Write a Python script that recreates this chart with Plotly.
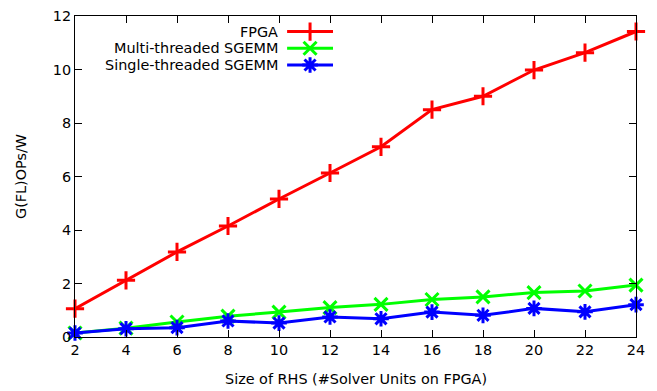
import plotly.graph_objects as go

rhs_sizes = [2, 4, 6, 8, 10, 12, 14, 16, 18, 20, 22, 24]
fpga = [1.06, 2.12, 3.18, 4.15, 5.16, 6.13, 7.11, 8.50, 9.00, 9.98, 10.63, 11.42]
multi_sgemm = [0.15, 0.33, 0.56, 0.78, 0.93, 1.10, 1.22, 1.40, 1.50, 1.66, 1.72, 1.94]
single_sgemm = [0.15, 0.31, 0.35, 0.60, 0.52, 0.75, 0.68, 0.93, 0.81, 1.07, 0.94, 1.21]

series_names = ["FPGA", "Multi-threaded SGEMM", "Single-threaded SGEMM"]
series_colors = ["#FF0000", "#00FF00", "#0000FF"]
series_symbols = ["cross-thin", "x-thin", "asterisk"]
series_values = [fpga, multi_sgemm, single_sgemm]

FONT = "DejaVu Sans, Verdana, sans-serif"
FS = 14.4

fig = go.Figure()
for name, vals, col, sym in zip(series_names, series_values, series_colors, series_symbols):
    fig.add_trace(go.Scatter(
        x=rhs_sizes, y=vals, mode="lines+markers", name=name,
        line=dict(color=col, width=3),
        marker=dict(symbol=sym, size=13, color=col, line=dict(color=col, width=3)),
        showlegend=False, cliponaxis=False,
    ))

# manual legend (text right-aligned, sample on the right, like gnuplot)
legend_rows = [0.0, 1.0, 2.0]
for i, (name, col, sym) in enumerate(zip(series_names, series_colors, series_symbols)):
    fig.add_trace(go.Scatter(
        x=[0, 1], y=[legend_rows[i]] * 2, mode="lines", xaxis="x2", yaxis="y2",
        line=dict(color=col, width=3), showlegend=False, hoverinfo="skip",
    ))
    fig.add_trace(go.Scatter(
        x=[0.5], y=[legend_rows[i]], mode="markers", xaxis="x2", yaxis="y2",
        marker=dict(symbol=sym, size=13, color=col, line=dict(color=col, width=3)),
        showlegend=False, hoverinfo="skip", cliponaxis=False,
    ))
    fig.add_annotation(
        x=0, y=legend_rows[i], xref="x2", yref="y2", text=name, showarrow=False,
        xanchor="right", xshift=-7, font=dict(family=FONT, size=FS, color="#000"),
    )

# axis titles as annotations (fixed positions, gnuplot-like)
fig.add_annotation(
    x=0.5, y=0, xref="paper", yref="paper", text="Size of RHS (#Solver Units on FPGA)",
    showarrow=False, xanchor="center", yanchor="middle", yshift=-42,
    font=dict(family=FONT, size=FS, color="#000"),
)
fig.add_annotation(
    x=0, y=0.5, xref="paper", yref="paper", text="G(FL)OPs/W", textangle=-90,
    showarrow=False, xanchor="center", yanchor="middle", xshift=-54.5,
    font=dict(family=FONT, size=FS, color="#000"),
)

axis_common = dict(
    showgrid=False, zeroline=False, showline=True, linecolor="#000", linewidth=1,
    mirror="ticks", ticks="inside", ticklen=7, tickcolor="#000",
    tickfont=dict(family=FONT, size=FS, color="#000"), automargin=False,
)

fig.update_layout(
    width=657, height=391,
    margin=dict(l=75, r=21, t=16, b=54),
    paper_bgcolor="white", plot_bgcolor="white",
    xaxis=dict(range=[2, 24], tickmode="array", tickvals=rhs_sizes, **axis_common),
    yaxis=dict(range=[0, 12], tickmode="array", tickvals=[0, 2, 4, 6, 8, 10, 12],
               **axis_common),
    xaxis2=dict(domain=[0.378, 0.460], range=[0, 1], visible=False, anchor="y2"),
    yaxis2=dict(domain=[0.8214, 0.9774], range=[2.5, -0.5], visible=False, anchor="x2"),
)

fig.write_html(
    "out.html",
    config={"displayModeBar": False},
    post_script="document.body.style.margin='0';document.body.style.overflow='hidden';",
)
